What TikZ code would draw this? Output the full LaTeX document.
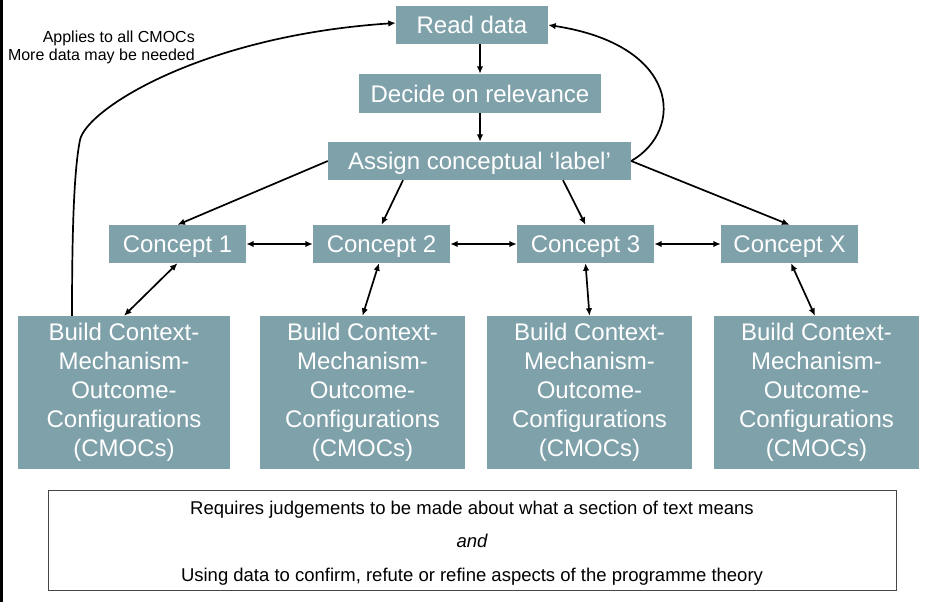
\documentclass[tikz,border=0pt]{standalone}
\usepackage{fontspec}
\setmainfont{Liberation Sans}
\usetikzlibrary{arrows.meta}
\definecolor{boxc}{RGB}{127,161,170}
\definecolor{framec}{RGB}{70,70,70}
\begin{document}
\begin{tikzpicture}[x=1pt,y=-1pt,
  box/.style={fill=boxc,text=white,inner sep=0pt,font=\fontsize{24}{29}\selectfont,align=center},
  onebox/.style={box,text height=17pt,text depth=0pt},
  tipx/.tip={Latex[length=7.5pt,width=6.5pt]},
  conn/.style={line width=1.7pt,-tipx},
  both/.style={line width=1.7pt,tipx-tipx},
  smalltxt/.style={inner sep=0pt,font=\fontsize{16}{18}\selectfont},
  judgetxt/.style={inner sep=0pt,font=\fontsize{18.5}{22}\selectfont}]
\useasboundingbox (0,0) rectangle (947,602);
\fill[black] (0,0) rectangle (3,602);

% top chain
\node[onebox,minimum width=152pt,minimum height=38pt] (read) at (472,25) {Read data};
\node[onebox,minimum width=242pt,minimum height=39pt] (decide) at (480,93.5) {Decide on relevance};
\node[onebox,minimum width=303pt,minimum height=38pt] (assign) at (479.5,161) {Assign conceptual ‘label’};

% concepts
\node[onebox,minimum width=137pt,minimum height=38pt] (c1) at (177.5,244) {Concept 1};
\node[onebox,minimum width=137pt,minimum height=38pt] (c2) at (381.5,244) {Concept 2};
\node[onebox,minimum width=137pt,minimum height=38pt] (c3) at (585.5,244) {Concept 3};
\node[onebox,minimum width=137pt,minimum height=38pt] (cx) at (789.5,244) {Concept X};

% build boxes
\node[box,minimum width=212pt,minimum height=153pt] (b1) at (124,392.5) {Build Context-\\Mechanism-\\Outcome-\\Configurations\\(CMOCs)};
\node[box,minimum width=205pt,minimum height=153pt] (b2) at (362.5,392.5) {Build Context-\\Mechanism-\\Outcome-\\Configurations\\(CMOCs)};
\node[box,minimum width=205pt,minimum height=153pt] (b3) at (589.5,392.5) {Build Context-\\Mechanism-\\Outcome-\\Configurations\\(CMOCs)};
\node[box,minimum width=205pt,minimum height=153pt] (b4) at (816.5,392.5) {Build Context-\\Mechanism-\\Outcome-\\Configurations\\(CMOCs)};

% note
\node[smalltxt,anchor=base east] (note1) at (195,42) {Applies to all CMOCs};
\node[smalltxt,anchor=base east] (note2) at (195,60) {More data may be needed};

% bottom box
\node[draw=framec,line width=1pt,minimum width=848pt,minimum height=100pt,inner sep=0pt] (judge) at (472,540) {};
\node[judgetxt,anchor=base] (j1) at (472,514) {Requires judgements to be made about what a section of text means};
\node[judgetxt,anchor=base] (j2) at (472,547.5) {\itshape and};
\node[judgetxt,anchor=base] (j3) at (472,581) {Using data to confirm, refute or refine aspects of the programme theory};

% connectors
\draw[conn] (decide.north |- read.south) -- (decide.north);
\draw[conn] (decide.south) -- (decide.south |- assign.north);
\draw[conn] (assign.west) -- (c1.north);
\draw[conn] ([xshift=-76.5pt]assign.south) -- (c2.north);
\draw[conn] ([xshift=83.5pt]assign.south) -- (c3.north);
\draw[conn] (assign.east) -- (cx.north);

\draw[both] (c1.east) -- (c2.west);
\draw[both] (c2.east) -- (c3.west);
\draw[both] (c3.east) -- (cx.west);

\draw[both] (c1.south) -- (b1.north);
\draw[both] ([xshift=-2.5pt]c2.south) -- (b2.north);
\draw[both] (c3.south) -- (b3.north);
\draw[both] ([xshift=1.5pt]cx.south) -- ([xshift=-1.5pt]b4.north);

\draw[conn] ([xshift=-52pt]b1.north) .. controls (72,230) and (74,170) .. (80,140)
  .. controls (86,110) and (200,36) .. ([yshift=2pt]read.west);
\draw[conn] (assign.east) .. controls (685,130) and (680,45) .. (read.east);
\end{tikzpicture}
\end{document}
